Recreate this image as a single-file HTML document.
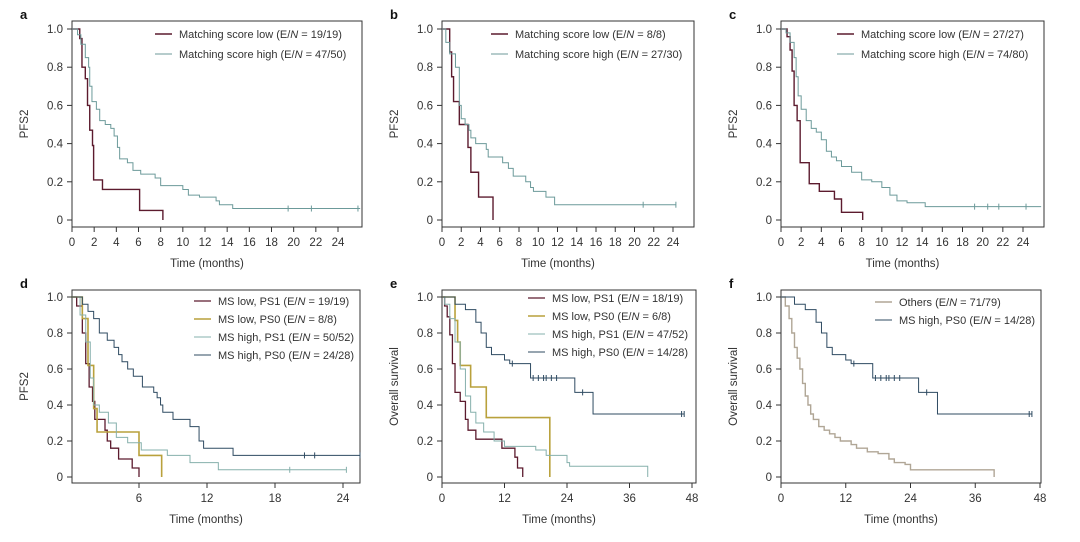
<!DOCTYPE html>
<html><head><meta charset="utf-8">
<style>
body{margin:0;background:#fff;width:1080px;height:537px;overflow:hidden}
svg{font-family:"Liberation Sans",Arial,sans-serif}
</style></head>
<body>
<svg id="fig" width="1080" height="537" viewBox="0 0 1080 537" xmlns="http://www.w3.org/2000/svg"></svg>
<script>
// ---- data (time in months, survival) ----
const aLowT=[0,0.7,0.9,1.2,1.4,1.6,1.85,1.95,2.75,6.1,8.2];
const aLowS=[1,0.95,0.8,0.74,0.6,0.47,0.39,0.21,0.16,0.05,0];
const aHighT=[0,0.5,0.8,1.2,1.5,1.6,1.8,2.2,2.5,3.0,3.5,3.8,4.1,4.3,5.0,5.5,6.2,7.5,8.0,10.0,10.5,11.5,13.0,13.3,14.5,26];
const aHighS=[1,0.97,0.92,0.85,0.8,0.7,0.62,0.58,0.52,0.5,0.48,0.44,0.38,0.32,0.3,0.26,0.24,0.22,0.18,0.16,0.13,0.12,0.1,0.08,0.06,0.06];
const aHighC=[19.5,21.6,25.8];
const bLowT=[0,0.8,1.0,1.2,1.8,2.7,3.0,3.8,5.3];
const bLowS=[1,0.88,0.75,0.62,0.5,0.38,0.25,0.12,0];
const bHighT=[0,0.4,0.8,1.4,1.8,2.0,2.4,2.8,3.0,3.5,4.6,4.8,6.3,6.9,7.4,8.7,9.2,9.5,10.8,11.7,24.3];
const bHighS=[1,0.93,0.87,0.8,0.6,0.53,0.5,0.47,0.43,0.4,0.37,0.33,0.3,0.27,0.23,0.2,0.17,0.15,0.12,0.08,0.08];
const bHighC=[20.9,24.3];
const cLowT=[0,0.6,0.9,1.1,1.3,1.6,1.9,2.8,3.8,5.3,6.0,8.1];
const cLowS=[1,0.96,0.89,0.78,0.6,0.52,0.3,0.19,0.15,0.11,0.04,0];
const cHighT=[0,0.5,0.9,1.3,1.5,1.7,2.0,2.5,3.0,3.5,4.0,4.5,5.0,5.5,6.0,7.0,8.0,9.0,10.0,10.8,11.5,12.5,14.3,25.8];
const cHighS=[1,0.98,0.93,0.85,0.75,0.65,0.58,0.52,0.48,0.46,0.42,0.36,0.33,0.31,0.28,0.25,0.21,0.2,0.17,0.13,0.1,0.09,0.07,0.07];
const cHighC=[19.2,20.5,21.6,24.3];
const dLowPS1T=[0,0.5,1.0,1.3,1.6,1.9,2.1,3.0,3.2,3.5,4.2,5.4,6.0];
const dLowPS1S=[1,0.95,0.8,0.63,0.5,0.42,0.32,0.26,0.2,0.16,0.1,0.05,0];
const dLowPS0T=[0,1.0,1.5,2.0,2.3,6.0,8.0];
const dLowPS0S=[1,0.88,0.62,0.38,0.25,0.12,0];
const dHighPS1T=[0,0.8,1.3,1.7,2.0,2.5,3.3,4.0,5.0,6.2,8.5,10.5,13.0,24.3];
const dHighPS1S=[1,0.9,0.75,0.55,0.4,0.36,0.3,0.22,0.19,0.15,0.12,0.08,0.04,0.04];
const dHighPS1C=[19.3,24.3];
const dHighPS0T=[0,1.0,1.5,2.0,2.5,3.2,3.8,4.2,4.5,5.0,5.5,6.3,7.3,7.6,7.9,8.1,9.0,10.5,11.3,11.7,14.3,25.5];
const dHighPS0S=[1,0.96,0.92,0.88,0.8,0.76,0.72,0.68,0.64,0.6,0.56,0.5,0.47,0.44,0.4,0.36,0.32,0.28,0.2,0.16,0.12,0.12];
const dHighPS0C=[20.6,21.5,25.5];
const eLowPS1T=[0,0.5,1.0,1.5,2.0,2.5,3.5,4.5,5.0,6.5,11.5,14.0,14.5,15.5];
const eLowPS1S=[1,0.95,0.89,0.79,0.63,0.47,0.42,0.32,0.26,0.21,0.16,0.11,0.05,0];
const eLowPS0T=[0,2.5,3.0,3.5,5.5,8.5,20.7];
const eLowPS0S=[1,0.87,0.75,0.62,0.5,0.33,0];
const eHighPS1T=[0,0.5,1.5,2.5,3.5,4.5,5.5,6.5,8.0,10,12,18,20,24,24.5,39.5];
const eHighPS1S=[1,0.96,0.88,0.75,0.6,0.45,0.36,0.3,0.25,0.2,0.17,0.15,0.12,0.08,0.06,0];
const eHighPS0T=[0,2.5,4.5,6.5,7.5,8.5,9.5,12,13,17,25.5,29,46.5];
const eHighPS0S=[1,0.96,0.93,0.86,0.8,0.72,0.68,0.65,0.63,0.55,0.47,0.35,0.35];
const eHighPS0C=[13.5,17.5,18.5,19.5,20,21,22,27,46,46.5];
const fOthT=[0,0.8,1.5,2,2.5,3,3.5,4,4.5,5,5.5,6,7,8,9,10,11,13,14,16,18,20,21,23,24,39,39.5];
const fOthS=[1,0.95,0.88,0.8,0.72,0.66,0.6,0.52,0.45,0.4,0.35,0.32,0.28,0.26,0.24,0.22,0.2,0.18,0.16,0.14,0.13,0.1,0.08,0.07,0.04,0.04,0];
const yTicks=[0,0.2,0.4,0.6,0.8,1.0];
const yTickLabels=["0","0.2","0.4","0.6","0.8","1.0"];
const xTicksTop=[0,2,4,6,8,10,12,14,16,18,20,22,24];
const xTicksD=[6,12,18,24];
const xTicksEF=[0,12,24,36,48];

const C={low:"#5c1b2e",high:"#6c9a9a",olive:"#b9a13c",light:"#86b0ac",navy:"#2f4b62",oth:"#b0a696"};
const NS="http://www.w3.org/2000/svg";
const svg=document.getElementById('fig');
function mk(tag,attrs,parent){const e=document.createElementNS(NS,tag);for(const k in attrs)e.setAttribute(k,attrs[k]);(parent||svg).appendChild(e);return e;}

function panel(p){
  const g=mk('g',{});
  
  
  const sx=t=>p.x0+(t-p.tmin)*(p.x1-p.x0)/(p.tmax-p.tmin);
  const sy=v=>p.y0+(1-v)*(p.yb-p.y0);
  const box=mk('rect',{x:p.L,y:p.T,width:p.R-p.L,height:p.B-p.T,fill:'none',stroke:'#333','stroke-width':1},g);
  
  
  const lt=mk('text',{x:p.L-52,y:p.T-2,'font-size':13,'font-weight':'bold',fill:'#111'},g);
  lt.textContent=p.id;
  
  
  yTicks.forEach((v,i)=>{
    mk('line',{x1:p.L-5,x2:p.L,y1:sy(v),y2:sy(v),stroke:'#333'},g);
    const t=mk('text',{x:p.L-9,y:sy(v)+4,'font-size':11.5,'text-anchor':'end',fill:'#333'},g);
    t.textContent=yTickLabels[i];
    
    
  });
  p.xt.forEach(v=>{
    mk('line',{x1:sx(v),x2:sx(v),y1:p.B,y2:p.B+5,stroke:'#333'},g);
    const t=mk('text',{x:sx(v),y:p.B+19,'font-size':11.5,'text-anchor':'middle',fill:'#333'},g);
    t.textContent=String(v);
    
    
  });
  const yx=p.L-44, ymid=(p.T+p.B)/2;
  const yt=mk('text',{x:yx,y:ymid,'font-size':11.5,'text-anchor':'middle',fill:'#333',transform:'rotate(-90 '+yx+' '+ymid+')'},g);
  yt.textContent=p.ylab;
  
  
  const xt=mk('text',{x:(p.L+p.R)/2-10,y:p.B+40,'font-size':11.5,'text-anchor':'middle',fill:'#333'},g);
  xt.textContent='Time (months)';
  
  
  p.series.forEach((s,k)=>{
    let d='M'+sx(s.t[0])+','+sy(s.s[0]);
    for(let i=1;i<s.t.length;i++){d+=' H'+sx(s.t[i])+' V'+sy(s.s[i]);}
    const path=mk('path',{d:d,fill:'none',stroke:s.c,'stroke-width':s.w||1},g);
    
    
    (s.cens||[]).forEach(ct=>{
      let v=s.s[0];for(let i=0;i<s.t.length;i++){if(s.t[i]<=ct)v=s.s[i];}
      const m=mk('line',{x1:sx(ct),x2:sx(ct),y1:sy(v)-3,y2:sy(v)+3,stroke:s.c},g);
      
      
    });
    const ly=p.ly+k*p.lsp;
    mk('line',{x1:p.lx,x2:p.lx+17,y1:ly,y2:ly,stroke:s.c,'stroke-width':s.w||1},g);
    const tx=mk('text',{x:p.lx+24,y:ly+4,'font-size':11,fill:'#333'},g);
    const parts=s.label.split('N =');
    tx.appendChild(document.createTextNode(parts[0]));
    const it=document.createElementNS(NS,'tspan');it.setAttribute('font-style','italic');it.textContent='N';tx.appendChild(it);
    tx.appendChild(document.createTextNode(' ='+parts[1]));
    
    
  });
}
const topCfg={T:21,B:227,y0:29,yb:220,ly:34,lsp:20,tmin:0,ylab:'PFS2'};
panel(Object.assign({},topCfg,{id:'a',L:72,R:362,x0:72,x1:338,tmax:24,xt:xTicksTop,lx:155,series:[
 {key:'low',t:aLowT,s:aLowS,c:C.low,w:1.4,label:'Matching score low (E/N = 19/19)'},
 {key:'high',t:aHighT,s:aHighS,c:C.high,cens:aHighC,label:'Matching score high (E/N = 47/50)'}]}));
panel(Object.assign({},topCfg,{id:'b',L:442,R:694,x0:442,x1:673,tmax:24,xt:xTicksTop,lx:491,series:[
 {key:'low',t:bLowT,s:bLowS,c:C.low,w:1.4,label:'Matching score low (E/N = 8/8)'},
 {key:'high',t:bHighT,s:bHighS,c:C.high,cens:bHighC,label:'Matching score high (E/N = 27/30)'}]}));
panel(Object.assign({},topCfg,{id:'c',L:781,R:1044,x0:781,x1:1023,tmax:24,xt:xTicksTop,lx:837,series:[
 {key:'low',t:cLowT,s:cLowS,c:C.low,w:1.4,label:'Matching score low (E/N = 27/27)'},
 {key:'high',t:cHighT,s:cHighS,c:C.high,cens:cHighC,label:'Matching score high (E/N = 74/80)'}]}));
const botCfg={T:290,B:483,y0:297,yb:477,tmin:0};
panel(Object.assign({},botCfg,{id:'d',L:72,R:360,x0:71,x1:343,tmax:24,xt:xTicksD,lx:194,ly:301,lsp:18,ylab:'PFS2',series:[
 {key:'ms-low-ps1',t:dLowPS1T,s:dLowPS1S,c:C.low,w:1.3,label:'MS low, PS1 (E/N = 19/19)'},
 {key:'ms-low-ps0',t:dLowPS0T,s:dLowPS0S,c:C.olive,w:1.6,label:'MS low, PS0 (E/N = 8/8)'},
 {key:'ms-high-ps1',t:dHighPS1T,s:dHighPS1S,c:C.light,cens:dHighPS1C,label:'MS high, PS1 (E/N = 50/52)'},
 {key:'ms-high-ps0',t:dHighPS0T,s:dHighPS0S,c:C.navy,cens:dHighPS0C,label:'MS high, PS0 (E/N = 24/28)'}]}));
panel(Object.assign({},botCfg,{id:'e',L:442,R:696,x0:442,x1:692,tmax:48,xt:xTicksEF,lx:528,ly:298,lsp:18,ylab:'Overall survival',series:[
 {key:'ms-low-ps1',t:eLowPS1T,s:eLowPS1S,c:C.low,w:1.3,label:'MS low, PS1 (E/N = 18/19)'},
 {key:'ms-low-ps0',t:eLowPS0T,s:eLowPS0S,c:C.olive,w:1.6,label:'MS low, PS0 (E/N = 6/8)'},
 {key:'ms-high-ps1',t:eHighPS1T,s:eHighPS1S,c:C.light,label:'MS high, PS1 (E/N = 47/52)'},
 {key:'ms-high-ps0',t:eHighPS0T,s:eHighPS0S,c:C.navy,cens:eHighPS0C,label:'MS high, PS0 (E/N = 14/28)'}]}));
panel(Object.assign({},botCfg,{id:'f',L:781,R:1041,x0:781,x1:1040,tmax:48,xt:xTicksEF,lx:875,ly:302,lsp:18,ylab:'Overall survival',series:[
 {key:'others',t:fOthT,s:fOthS,c:C.oth,w:1.4,label:'Others (E/N = 71/79)'},
 {key:'ms-high-ps0',t:eHighPS0T,s:eHighPS0S,c:C.navy,cens:eHighPS0C,label:'MS high, PS0 (E/N = 14/28)'}]}));
</script>
</body></html>
